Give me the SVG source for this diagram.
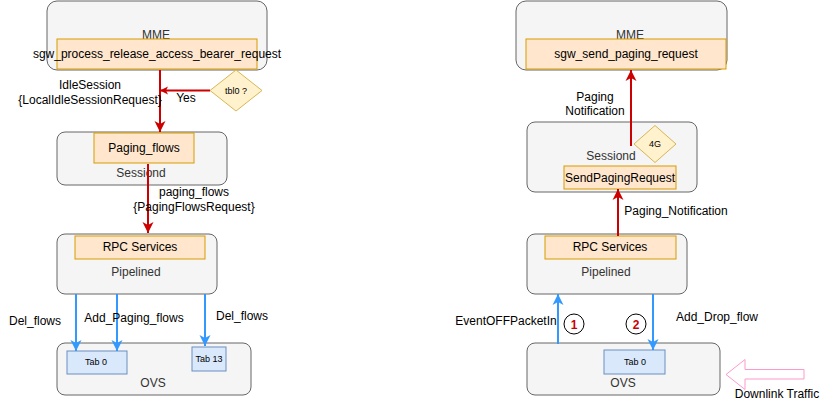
<svg xmlns="http://www.w3.org/2000/svg" width="827" height="406" viewBox="0 0 827 406">
<defs>
<style>
.box{fill:#f5f5f5;stroke:#666666;stroke-width:1}
.inner{fill:#ffe6cc;stroke:#d79b00;stroke-width:1}
.tab{fill:#dae8fc;stroke:#6c8ebf;stroke-width:1}
.dia{fill:#fff2cc;stroke:#d6b656;stroke-width:1}
text{font-family:"Liberation Sans",Arial,sans-serif;font-size:12px;fill:#000000;text-anchor:middle}
.g{fill:#333333}
.s{font-size:9px}
.num{fill:#cc0000;font-weight:bold;font-size:12px}
.red{stroke:#cc0000;stroke-width:2;fill:none}
.blue{stroke:#3399ff;stroke-width:2;fill:none}
</style>
<marker id="ar" markerUnits="userSpaceOnUse" markerWidth="12" markerHeight="12" refX="11" refY="5.5" orient="auto" viewBox="0 0 12 11">
<path d="M0,0 L11,5.5 L0,11 L3,5.5 z" fill="#cc0000"/>
</marker>
<marker id="ars" markerUnits="userSpaceOnUse" markerWidth="9" markerHeight="9" refX="8" refY="4" orient="auto" viewBox="0 0 9 8">
<path d="M0,0 L8,4 L0,8 L2,4 z" fill="#cc0000"/>
</marker>
<marker id="ab" markerUnits="userSpaceOnUse" markerWidth="12" markerHeight="12" refX="11" refY="5.5" orient="auto" viewBox="0 0 12 11">
<path d="M0,0 L11,5.5 L0,11 L3,5.5 z" fill="#3399ff"/>
</marker>
</defs>

<!-- Left side -->
<g id="mme-left">
<rect class="box" x="47" y="1" width="220" height="69" rx="10"/>
<text class="g" x="156" y="39">MME</text>
<rect class="inner" x="57" y="39" width="200" height="30"/>
<text x="157" y="57.5">sgw_process_release_access_bearer_request</text>
</g>
<g id="tbl0">
<polygon class="dia" points="236,70 262,90.5 236,111 210,90.5"/>
<text class="s" x="236" y="93.5">tbl0 ?</text>
</g>
<g id="sessiond-left">
<rect class="box" x="57" y="132" width="170" height="53" rx="8"/>
<rect class="inner" x="94" y="133" width="100" height="30"/>
<text x="144" y="152">Paging_flows</text>
<text class="g" x="141" y="177">Sessiond</text>
</g>
<g id="pipelined-left">
<rect class="box" x="57" y="234" width="160" height="60" rx="8"/>
<rect class="inner" x="75" y="236" width="130" height="23"/>
<text x="140" y="251">RPC Services</text>
<text class="g" x="136" y="276">Pipelined</text>
</g>
<g id="ovs-left">
<rect class="box" x="57" y="343" width="194" height="52" rx="8"/>
<rect class="tab" x="67" y="351" width="60" height="23"/>
<text class="s" x="96" y="365">Tab 0</text>
<rect class="tab" x="192" y="347" width="34" height="24"/>
<text class="s" x="209" y="361.5">Tab 13</text>
<text class="g" x="153" y="387">OVS</text>
</g>

<!-- Right side -->
<g id="mme-right">
<rect class="box" x="516" y="1" width="211" height="69" rx="10"/>
<text class="g" x="630" y="39">MME</text>
<rect class="inner" x="526" y="39" width="200" height="30"/>
<text x="626" y="58">sgw_send_paging_request</text>
</g>
<g id="sessiond-right">
<rect class="box" x="527" y="122" width="170" height="70" rx="8"/>
<text class="g" x="611" y="160">Sessiond</text>
<rect class="inner" x="564" y="166" width="112" height="23"/>
<text x="620" y="182">SendPagingRequest</text>
</g>
<g id="diamond-4g">
<polygon class="dia" points="655,125.5 676,144 655,162.5 634,144"/>
<text class="s" x="655" y="147">4G</text>
</g>
<g id="pipelined-right">
<rect class="box" x="527" y="234" width="160" height="60" rx="8"/>
<rect class="inner" x="545" y="236" width="131" height="23"/>
<text x="610" y="251">RPC Services</text>
<text class="g" x="606" y="276">Pipelined</text>
</g>
<g id="ovs-right">
<rect class="box" x="527" y="343" width="193" height="52" rx="8"/>
<rect class="tab" x="604" y="350" width="61" height="24"/>
<text class="s" x="635" y="365">Tab 0</text>
<text class="g" x="623" y="387">OVS</text>
</g>
<g id="step1">
<circle cx="574" cy="324" r="10" fill="#ffffff" stroke="#000000"/>
<text class="num" x="574" y="328.5">1</text>
</g>
<g id="step2">
<circle cx="636" cy="324" r="10" fill="#ffffff" stroke="#000000"/>
<text class="num" x="636" y="328.5">2</text>
</g>
<g id="downlink">
<path d="M726,374.5 L745,359.5 L745,369.5 L804,369.5 L804,379 L745,379 L745,389.5 z" fill="#ffffff" stroke="#ff99cc" stroke-width="1"/>
<text x="777" y="398">Downlink Traffic</text>
</g>

<!-- Connectors -->
<g id="connectors">
<line class="red" x1="160" y1="70" x2="160" y2="132" marker-end="url(#ar)"/>
<line class="red" x1="210" y1="90.5" x2="160" y2="90.5" marker-end="url(#ars)" stroke-width="1.5"/>
<line class="red" x1="148" y1="164" x2="148" y2="233" marker-end="url(#ar)"/>
<line class="blue" x1="76" y1="294" x2="76" y2="351" marker-end="url(#ab)"/>
<line class="blue" x1="117" y1="294" x2="117" y2="351" marker-end="url(#ab)"/>
<line class="blue" x1="205" y1="294" x2="205" y2="346" marker-end="url(#ab)"/>
<line class="red" x1="618" y1="236" x2="618" y2="189" marker-end="url(#ar)"/>
<line class="red" x1="631" y1="146" x2="631" y2="70" marker-end="url(#ar)"/>
<line class="blue" x1="558" y1="344" x2="558" y2="294" marker-end="url(#ab)"/>
<line class="blue" x1="653" y1="294" x2="653" y2="350" marker-end="url(#ab)"/>
</g>

<!-- Edge labels -->
<g id="labels">
<text x="90" y="89">IdleSession</text>
<text x="90" y="104">{LocalIdleSessionRequest}</text>
<text x="186" y="102">Yes</text>
<text x="194" y="196">paging_flows</text>
<text x="194" y="211">{PagingFlowsRequest}</text>
<text x="35" y="325">Del_flows</text>
<text x="134" y="321.5">Add_Paging_flows</text>
<text x="242" y="320">Del_flows</text>
<text x="595" y="101">Paging</text>
<text x="595" y="115">Notification</text>
<text x="676" y="215">Paging_Notification</text>
<text x="506" y="325">EventOFFPacketIn</text>
<text x="717" y="321">Add_Drop_flow</text>
</g>
</svg>
